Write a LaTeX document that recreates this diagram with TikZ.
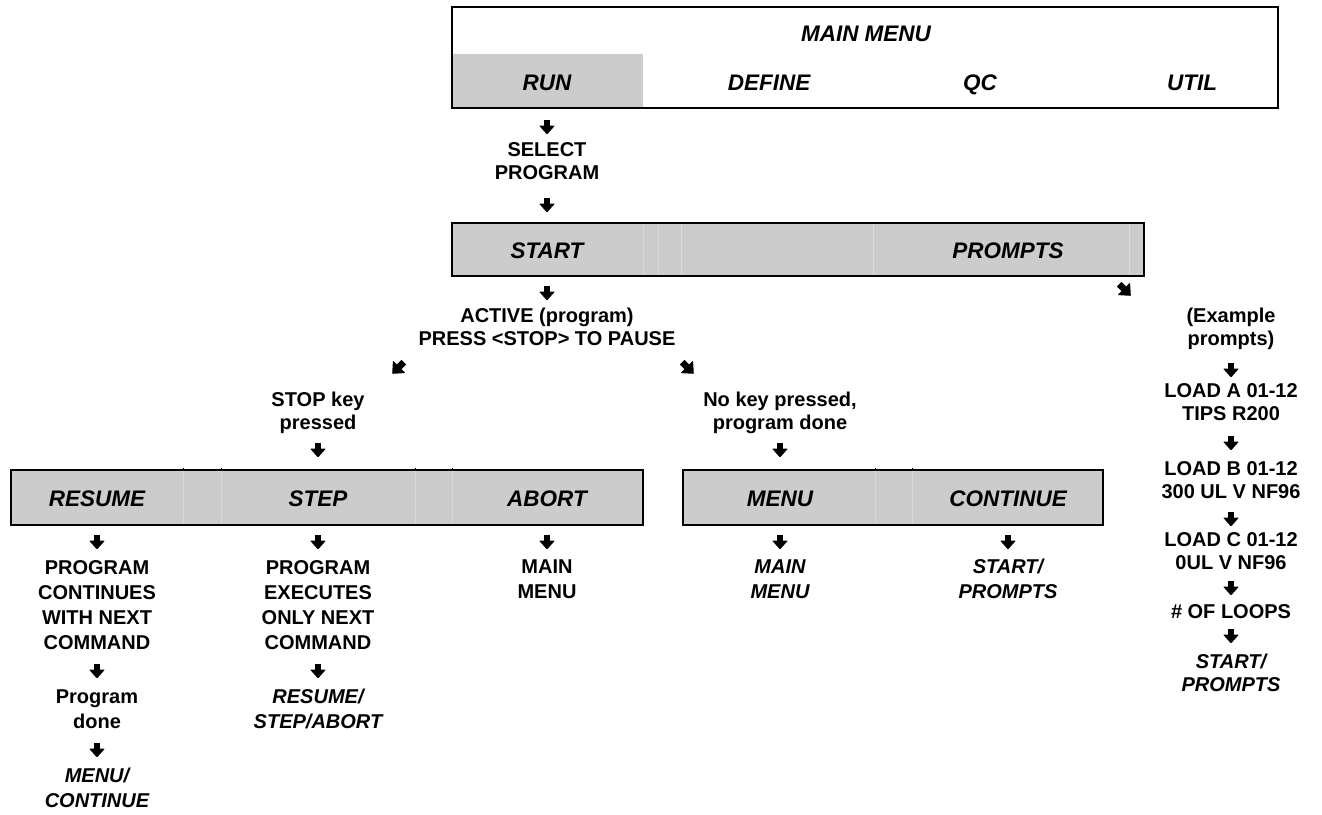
\documentclass[tikz,border=0pt]{standalone}
\usepackage{fontspec}
\setmainfont{Liberation Sans}
\definecolor{panel}{RGB}{204,204,204}
\definecolor{seam}{RGB}{218,218,218}
\begin{document}
\begin{tikzpicture}[x=1pt,y=-1pt,
  txt/.style={font=\fontsize{20}{23}\selectfont\bfseries, align=center, inner sep=0pt,
    execute at begin node=\strut, execute at end node=\strut, yshift=-2.4pt},
  col/.style={txt, font=\fontsize{20}{25}\selectfont\bfseries},
  colit/.style={txt, font=\fontsize{20}{25}\selectfont\bfseries\itshape},
  key/.style={font=\fontsize{22.5}{27}\selectfont\bfseries\itshape, inner sep=0pt,
    execute at begin node=\strut, yshift=-2.7pt},
  frame/.style={line width=2.6pt},
  seamline/.style={draw=seam, line width=0.7pt},
  darrow/.pic={
    \fill (-3,-7.5) rectangle (3,0);
    \fill[rounded corners=0.8pt] (-8,-1.5) -- (8,-1.5) -- (0,7.5) -- cycle;}
]
\useasboundingbox (0,0) rectangle (1322,814);

% ---- main menu panel
\fill[panel] (452,54) rectangle (643,108);
\draw[frame] (452,7) rectangle (1278,108);
\node[key] (mainmenu) at (866,33) {MAIN MENU};
\node[key] (run)    at (547,82) {RUN};
\node[key] (define) at (769,82) {DEFINE};
\node[key] (qc)     at (980,82) {QC};
\node[key] (util)   at (1192,82) {UTIL};

\pic at (547,127) {darrow};
\node[txt] (select) at (547,162) {SELECT\\PROGRAM};
\pic at (547,205) {darrow};

% ---- start / prompts panel
\fill[panel] (452,223) rectangle (1144,276);
\foreach \sx in {643,658,681,873,1129} \draw[seamline] (\sx,224) -- (\sx,275);
\draw[frame] (452,223) rectangle (1144,276);
\node[key] (start)   at (547,250) {START};
\node[key] (prompts) at (1008,250) {PROMPTS};

\pic at (547,293) {darrow};
\pic[rotate=45, scale=1.1] at (1125,290) {darrow};

\node[txt] (active) at (547,328) {ACTIVE (program)\\PRESS <STOP> TO PAUSE};
\pic[rotate=-45, scale=1.1] at (398,368) {darrow};
\pic[rotate=45, scale=1.1] at (688,368) {darrow};

\node[txt] (stopkey) at (318,412) {STOP key\\pressed};
\pic at (318,450) {darrow};
\node[txt] (nokey) at (780,412) {No key pressed,\\program done};
\pic at (780,450) {darrow};

% ---- pause panel
\fill[panel] (11,470) rectangle (643,525);
\foreach \sx in {183,221,415,452} {
  \draw[seamline] (\sx,471) -- (\sx,524);
  \draw[line width=0.8pt] (\sx,470) -- (\sx,467.5);
}
\draw[frame] (11,470) rectangle (643,525);
\node[key] (resume) at (97,498) {RESUME};
\node[key] (step)   at (318,498) {STEP};
\node[key] (abort)  at (547,498) {ABORT};

% ---- end-of-program panel
\fill[panel] (683,470) rectangle (1103,525);
\foreach \sx in {875,912} {
  \draw[seamline] (\sx,471) -- (\sx,524);
  \draw[line width=0.8pt] (\sx,470) -- (\sx,467.5);
}
\draw[frame] (683,470) rectangle (1103,525);
\node[key] (menu)     at (780,498) {MENU};
\node[key] (continue) at (1008,498) {CONTINUE};

% ---- results below the panels
\foreach \ax in {97,318,547,780,1008} \pic at (\ax,542) {darrow};

\node[col] (contnext) at (97,606) {PROGRAM\\CONTINUES\\WITH NEXT\\COMMAND};
\pic at (97,671) {darrow};
\node[col] (progdone) at (97,710.5) {Program\\done};
\pic at (97,750) {darrow};
\node[colit] (menucont) at (97,789.5) {MENU/\\CONTINUE};

\node[col] (execnext) at (318,606) {PROGRAM\\EXECUTES\\ONLY NEXT\\COMMAND};
\pic at (318,671) {darrow};
\node[colit] (rsa) at (318,710.5) {RESUME/\\STEP/ABORT};

\node[col] (abortmain) at (547,580.5) {MAIN\\MENU};
\node[colit] (menumain) at (780,580.5) {MAIN\\MENU};
\node[colit] (contstart) at (1008,580.5) {START/\\PROMPTS};

% ---- example prompt sequence
\node[txt] (example) at (1231,327.5) {(Example\\prompts)};
\pic at (1231,370) {darrow};
\node[txt] (loada) at (1231,403.5) {LOAD A 01-12\\TIPS R200};
\pic at (1231,443) {darrow};
\node[txt] (loadb) at (1231,481.5) {LOAD B 01-12\\300 UL V NF96};
\pic at (1231,519) {darrow};
\node[txt] (loadc) at (1231,552) {LOAD C 01-12\\0UL V NF96};
\pic at (1231,588) {darrow};
\node[txt] (loops) at (1231,611) {\# OF LOOPS};
\pic at (1231,636) {darrow};
\node[txt, font=\fontsize{20}{23}\selectfont\bfseries\itshape] (restart) at (1231,673.5) {START/\\PROMPTS};
\end{tikzpicture}
\end{document}
